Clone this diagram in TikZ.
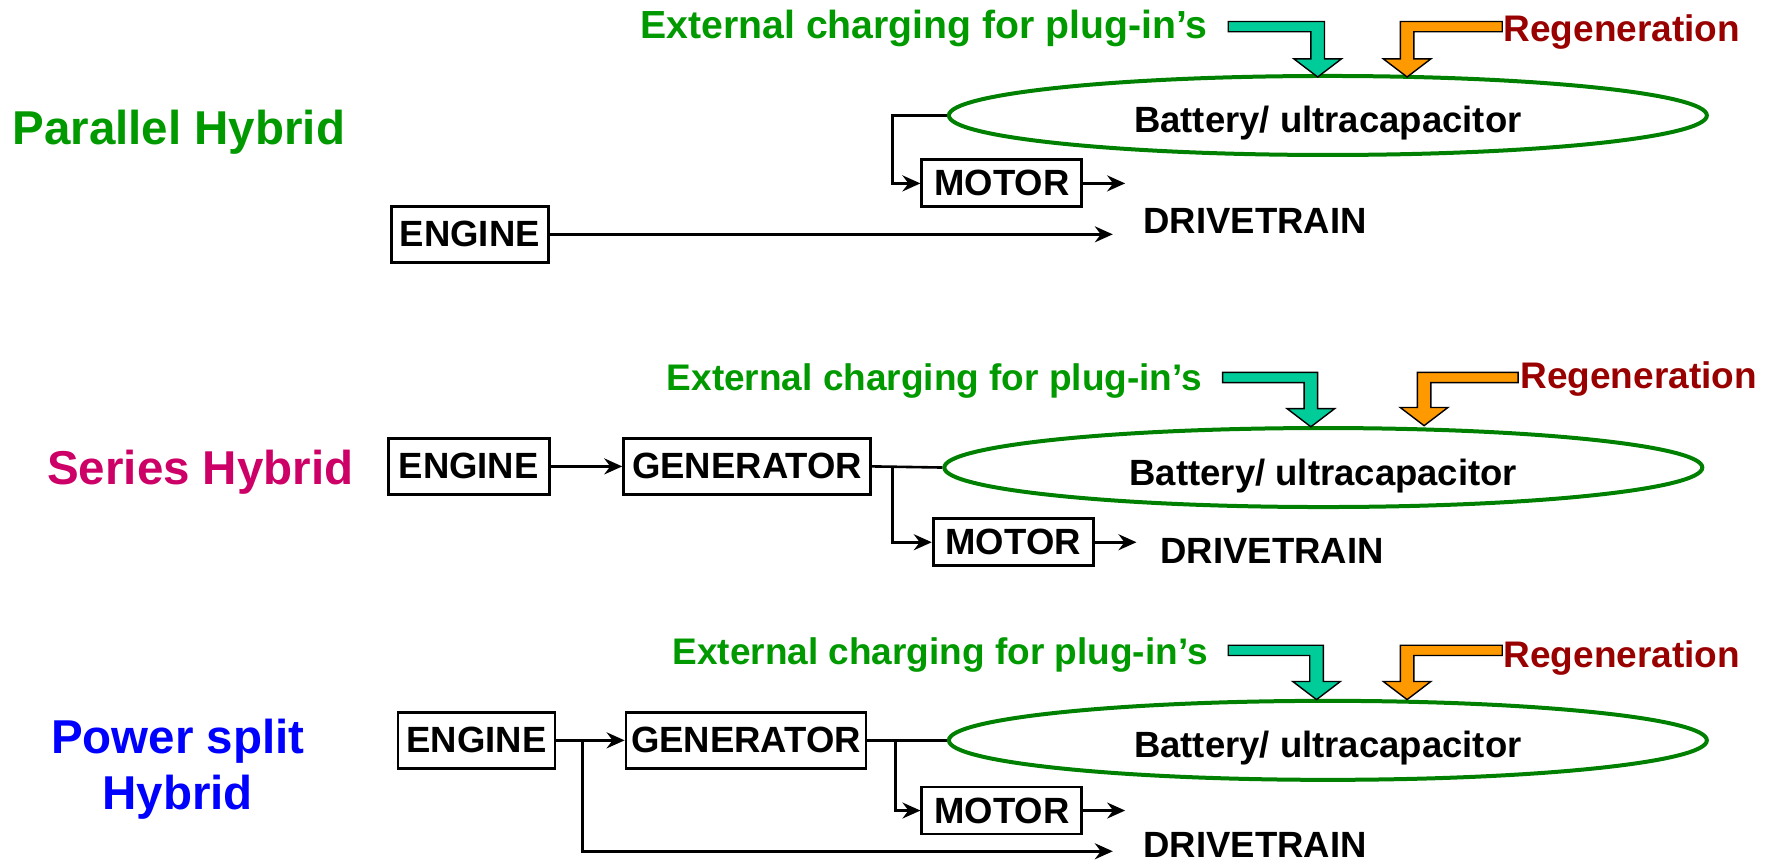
\documentclass[tikz,border=0pt]{standalone}
\usepackage{fontspec}
\setmainfont{Liberation Sans}
\usetikzlibrary{arrows.meta,shapes.geometric}
\definecolor{lblgreen}{HTML}{009900}
\definecolor{ellgreen}{HTML}{008000}
\definecolor{serred}{HTML}{CC0066}
\definecolor{regred}{HTML}{990000}
\definecolor{plugteal}{HTML}{00CC99}
\definecolor{regorange}{HTML}{FF9900}

\begin{document}
\begin{tikzpicture}[x=1.132pt,y=-1.132pt]
      \useasboundingbox (0,0) rectangle (1568,762.4);
      \tikzset{B/.style = {draw, line width=2.8pt, inner sep=0pt, minimum height=56pt, font=\fontsize{36.5}{40}\selectfont\bfseries}}
      \tikzset{M/.style = {B, minimum width=160pt, minimum height=47pt}}
      \tikzset{Bat/.style = {ellipse, draw=ellgreen, line width=4pt, minimum width=758pt, minimum height=79pt, inner sep=0pt, text height=35pt, text depth=0pt, font=\fontsize{36.5}{40}\selectfont\bfseries}}
      \tikzset{T/.style = {inner sep=0pt, font=\fontsize{47.5}{55.5}\selectfont\bfseries}}
      \tikzset{L/.style = {inner sep=0pt, font=\fontsize{37}{40}\selectfont\bfseries}}
      \tikzset{D/.style = {inner sep=0pt, anchor=west, font=\fontsize{36.5}{40}\selectfont\bfseries}}
      \tikzset{E/.style = {draw, line width=2.6pt, -{Stealth[length=18pt, width=16pt, inset=6pt]}}}
      \tikzset{P/.style = {fill=plugteal, draw=black, line width=1.4pt}}
      \tikzset{R/.style = {fill=regorange, draw=black, line width=1.4pt}}
      % parallel
      \node[T, text=lblgreen, anchor=base] (t1) at (158,128) {Parallel Hybrid};
      \node[L, text=lblgreen, anchor=base east, font=\fontsize{39.2}{42}\selectfont\bfseries] (x1) at (1067,33.7) {External charging for plug-in’s};
      \node[L, text=regred, anchor=base west] (r1) at (1328,36.5) {Regeneration};
      \node[Bat] (b1) at (1173,102) {Battery/ ultracapacitor};
      \node[M] (m1) at (885,162) {MOTOR};
      \node[B, minimum width=157pt] (e1) at (415,207) {ENGINE};
      \node[D] (d1) at (1010,195) {DRIVETRAIN};
      \coordinate (o1) at (983,207);
      \filldraw[P, shift={(1164,68)}] (-79,-49) -- (6,-49) -- (6,-16) -- (21,-16) -- (0,0) -- (-21,-16) -- (-6,-16) -- (-6,-40) -- (-79,-40) -- cycle;
      \filldraw[R, shift={(1243,68)}] (84,-49) -- (-6,-49) -- (-6,-16) -- (-21,-16) -- (0,0) -- (21,-16) -- (6,-16) -- (6,-40) -- (84,-40) -- cycle;
      \draw[E] (b1.west) -- ++(-48,0) |- (m1.west);
      \draw[E] (m1.east) -- ++(37,0);
      \draw[E] (e1.east) -- (o1);
      % series
      \node[T, text=serred, anchor=base] (t2) at (177,428) {Series Hybrid};
      \node[L, text=lblgreen, anchor=base east] (x2) at (1062,345) {External charging for plug-in’s};
      \node[L, text=regred, anchor=base west] (r2) at (1343,343.5) {Regeneration};
      \node[Bat] (b2) at (1169,413) {Battery/ ultracapacitor};
      \node[B, minimum width=161pt] (e2) at (414,412) {ENGINE};
      \node[B, minimum width=247pt] (g2) at (660,412) {GENERATOR};
      \node[M] (m2) at (895,479) {MOTOR};
      \node[D] (d2) at (1025,487) {DRIVETRAIN};
      \filldraw[P, shift={(1158,377)}] (-78,-48) -- (6,-48) -- (6,-16) -- (21,-16) -- (0,0) -- (-21,-16) -- (-6,-16) -- (-6,-39) -- (-78,-39) -- cycle;
      \filldraw[R, shift={(1258,376)}] (83,-47) -- (-6,-47) -- (-6,-16) -- (-21,-16) -- (0,0) -- (21,-16) -- (6,-16) -- (6,-38) -- (83,-38) -- cycle;
      \draw[E] (e2.east) -- (g2.west);
      \draw (g2.east) -- (b2.west) [line width=2.6pt];
      \draw[E] (g2.east) ++(18,0) |- (m2.west);
      \draw[E] (m2.east) -- ++(37,0);
      % power split
      \node[T, text=blue, align=center] (t3) at (157,679.6) {Power split\\Hybrid};
      \node[L, text=lblgreen, anchor=base east] (x3) at (1067,587) {External charging for plug-in’s};
      \node[L, text=regred, anchor=base west] (r3) at (1328,589.5) {Regeneration};
      \node[Bat] (b3) at (1173,654) {Battery/ ultracapacitor};
      \node[B, minimum width=157pt] (e3) at (421,654) {ENGINE};
      \node[B, minimum width=240pt] (g3) at (659,654) {GENERATOR};
      \node[M] (m3) at (885,716) {MOTOR};
      \node[D] (d3) at (1010,746) {DRIVETRAIN};
      \coordinate (o3) at (983,752);
      \filldraw[P, shift={(1163,618)}] (-78,-48) -- (6,-48) -- (6,-16) -- (21,-16) -- (0,0) -- (-21,-16) -- (-6,-16) -- (-6,-39) -- (-78,-39) -- cycle;
      \filldraw[R, shift={(1243,618)}] (84,-48) -- (-6,-48) -- (-6,-16) -- (-21,-16) -- (0,0) -- (21,-16) -- (6,-16) -- (6,-39) -- (84,-39) -- cycle;
      \draw[E] (e3.east) -- (g3.west);
      \draw[E] (e3.east) ++(23,0) |- (o3);
      \draw (g3.east) -- (b3.west) [line width=2.6pt];
      \draw[E] (g3.east) ++(25,0) |- (m3.west);
      \draw[E] (m3.east) -- ++(37,0);
\end{tikzpicture}
\end{document}
